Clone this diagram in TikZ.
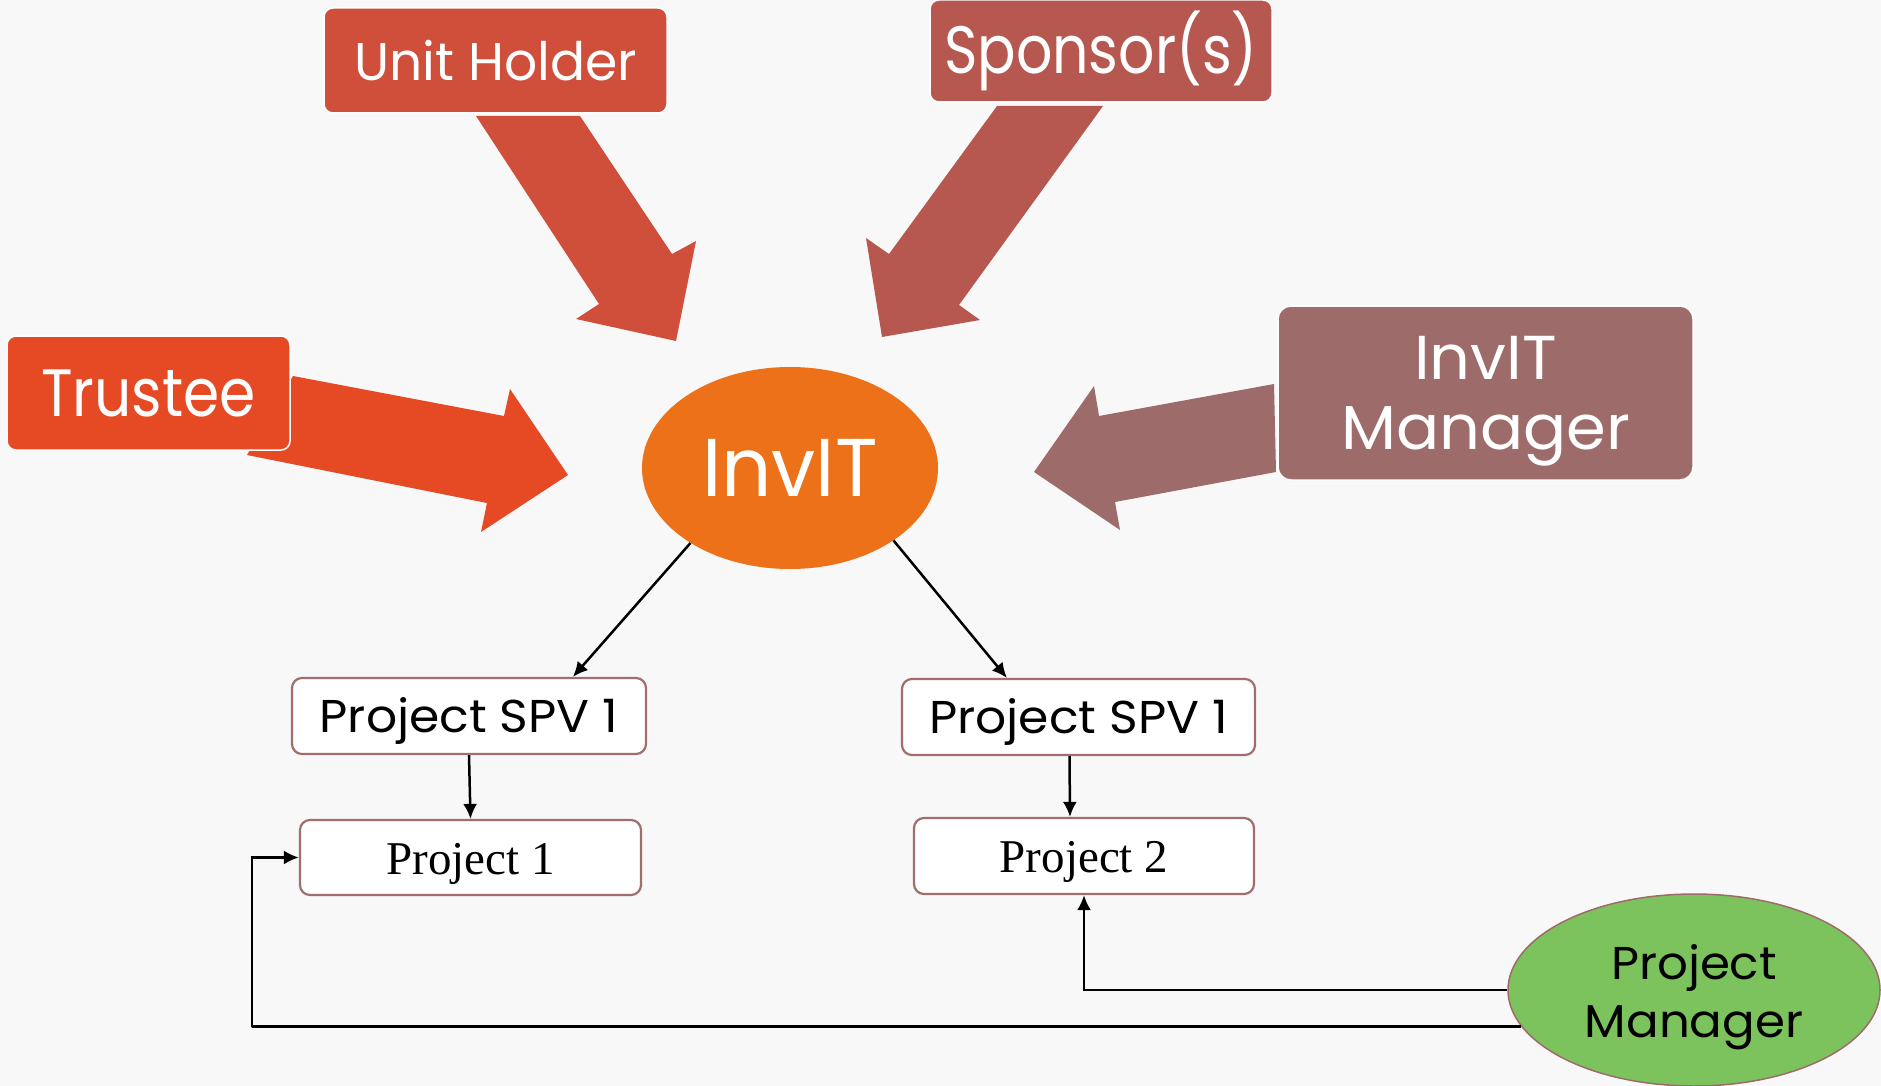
\documentclass[tikz,border=0pt]{standalone}
\usepackage{fontspec}
\usepackage{graphicx}
\setmainfont{Poppins}
\newfontfamily\timesf{Liberation Serif}
\usetikzlibrary{arrows.meta,shapes.geometric,calc}
\definecolor{bg}{HTML}{F8F8F8}
\definecolor{cunit}{HTML}{CF4F3B}
\definecolor{cspon}{HTML}{B65750}
\definecolor{ctrus}{HTML}{E54A24}
\definecolor{cmgr}{HTML}{9E6B6B}
\definecolor{cinv}{HTML}{EC7118}
\definecolor{cgreen}{HTML}{7DC35D}
\definecolor{cbord}{HTML}{A16E6E}
\newcommand{\lowtxt}[2]{\raisebox{-#1}[\height][\depth]{#2}}
\tikzset{
  topbox/.style={rectangle, rounded corners=9pt, draw=white, line width=1.5pt, text=white, inner sep=0pt, align=center},
  lowbox/.style={rectangle, rounded corners=10pt, draw=cbord, fill=white, line width=2.2pt, inner sep=0pt, align=center},
  conn/.style={line width=2.5pt, -{Latex[length=15pt,width=14pt]}},
}
\begin{document}
\begin{tikzpicture}[x=1pt,y=-1pt]
\fill[bg] (0,0) rectangle (1881,1086);
\useasboundingbox (0,0) rectangle (1881,1086);
% fat arrows
\fill[cunit] (476,116) -- (580,116) -- (672,254) -- (696,241) -- (676,341) -- (576,319) -- (599,304) -- cycle;
\fill[cspon] (997,106) -- (1103,106) -- (959,305) -- (980,320) -- (882,337) -- (866,238) -- (889,254) -- cycle;
\fill[ctrus] (293,376) -- (504,416) -- (510,389) -- (568,475) -- (481,532) -- (487,503) -- (247,455) -- cycle;
\fill[cmgr] (1274,384) -- (1099,416) -- (1094,386) -- (1034,472) -- (1120,530) -- (1115,502) -- (1276,472) -- cycle;
% boxes
\node[topbox, fill=cunit, minimum width=343pt, minimum height=105pt, font=\fontsize{53}{63}\selectfont] (unit) at (495.5,60.5) {\scalebox{0.98}[1]{Unit Holder}};
\node[topbox, fill=cspon, minimum width=342pt, minimum height=102pt, font=\fontsize{67}{80}\selectfont] (spon) at (1101,51) {\scalebox{0.85}[1]{Sponsor(s)}};
\node[topbox, fill=ctrus, minimum width=283pt, minimum height=114pt, font=\fontsize{67}{80}\selectfont] (trus) at (148.5,393) {\scalebox{0.87}[1]{Trustee}};
\node[topbox, fill=cmgr, rounded corners=13pt, minimum width=415pt, minimum height=174pt, font=\fontsize{62}{70}\selectfont] (mgr) at (1485.5,393) {\lowtxt{7pt}{\scalebox{1.03}[1]{\begin{tabular}{@{}c@{}}InvIT\\Manager\end{tabular}}}};
\node[ellipse, fill=cinv, text=white, minimum width=296pt, minimum height=202pt, inner sep=0pt, font=\fontsize{82}{96}\selectfont] (inv) at (790,468) {\scalebox{0.96}[1]{InvIT}};
\node[lowbox, minimum width=354pt, minimum height=76pt, font=\fontsize{46}{55}\selectfont] (spvl) at (469,716) {\lowtxt{5pt}{\scalebox{1.06}[1]{Project SPV 1}}};
\node[lowbox, minimum width=353pt, minimum height=76pt, font=\fontsize{46}{55}\selectfont] (spvr) at (1078.5,717) {\lowtxt{5pt}{\scalebox{1.06}[1]{Project SPV 1}}};
\node[lowbox, minimum width=341pt, minimum height=75pt, font=\timesf\fontsize{47}{56}\selectfont] (p1) at (470.5,857.5) {\lowtxt{6pt}{Project 1}};
\node[lowbox, minimum width=340pt, minimum height=76pt, font=\timesf\fontsize{47}{56}\selectfont] (p2) at (1084,856) {\lowtxt{6pt}{Project 2}};
\node[ellipse, draw=cmgr, line width=1.5pt, fill=cgreen, minimum width=372pt, minimum height=192pt, inner sep=0pt, align=center, font=\fontsize{46}{58}\selectfont] (pm) at (1694,990) {\lowtxt{7pt}{\scalebox{1.05}[1]{\begin{tabular}{@{}c@{}}Project\\Manager\end{tabular}}}};
% connectors
\draw[conn] (inv.217) -- ($(spvl.north west)+(282,0)$);
\draw[conn] (inv.325) -- ($(spvr.north west)+(106,0)$);
\draw[conn] (spvl.south) -- (p1.north);
\draw[conn] ($(spvr.south)+(-9,0)$) -- ($(p2.north)+(-14,0)$);
\draw[conn] (pm.west) -| (p2.south);
\coordinate (c1) at (252,1027);
\draw[conn] (pm.192) -| (c1) |- (p1.west);
\end{tikzpicture}
\end{document}
